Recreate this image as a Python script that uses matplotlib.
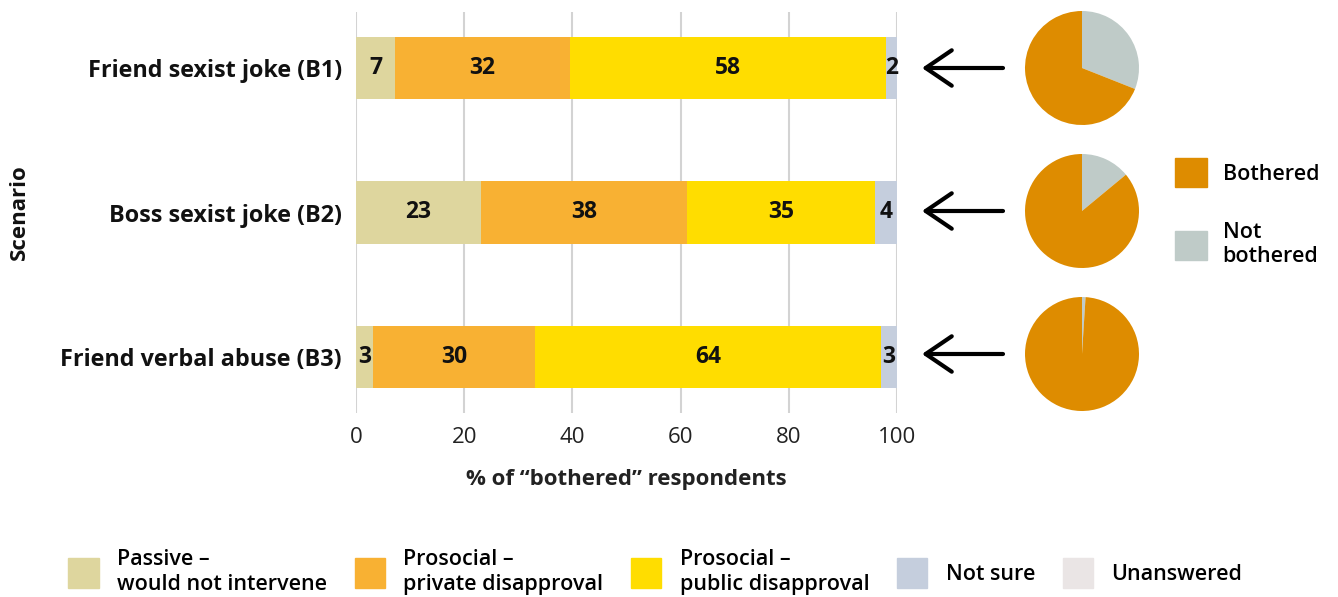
import numpy as np
import matplotlib.pyplot as plt
from matplotlib.patches import Patch

plt.rcParams['font.family'] = ['Open Sans', 'DejaVu Sans']

# Datos
escenarios = ['Friend sexist joke (B1)', 'Boss sexist joke (B2)', 'Friend verbal abuse (B3)']
categorias = ['Passive –\nwould not intervene', 'Prosocial –\nprivate disapproval',
              'Prosocial –\npublic disapproval', 'Not sure', 'Unanswered']
pasivo = [7.2, 23.1, 3.1]
privado = [32.4, 38.1, 30.0]
publico = [58.4, 34.8, 63.9]
no_seguro = [2.0, 4.0, 3.0]
sin_respuesta = [0.0, 0.0, 0.0]
molestos = [69, 86, 99]
no_molestos = [31, 14, 1]

colores = ['#DED69E', '#F8B133', '#FFDD00', '#C5CEDD', '#EAE5E5']
c_molesto = '#DE8C00'
c_no_molesto = '#BFCBC8'
texto = '#111111'

W, H = 1338, 597
fig = plt.figure(figsize=(W / 100, H / 100), dpi=100)

ax = fig.add_axes([356 / W, 1 - 413 / H, (897 - 356) / W, (413 - 12) / H])
y = np.arange(len(escenarios))
series = [pasivo, privado, publico, no_seguro, sin_respuesta]
izq = np.zeros(len(escenarios))
for vals, col in zip(series, colores):
    vals = np.array(vals)
    ax.barh(y, vals, left=izq, height=0.43, color=col, zorder=2)
    for yi, l, v in zip(y, izq, vals):
        if v > 0:
            ax.text(l + v / 2, yi, f'{v:.0f}', ha='center', va='center',
                    fontsize=16.5, fontweight='bold', color=texto, zorder=3)
    izq += vals

ax.set_xlim(0, 100)
ax.set_ylim(2.39, -0.39)
ax.set_xticks([0, 20, 40, 60, 80, 100])
ax.set_yticks(y)
ax.set_yticklabels(escenarios, fontsize=16.8, fontweight='bold', color=texto)
ax.tick_params(axis='x', labelsize=16, colors='#222222', length=0, pad=10)
ax.tick_params(axis='y', length=0, pad=10)
ax.grid(axis='x', color='#D3D3D3', linewidth=1.5, zorder=0)
for s in ax.spines.values():
    s.set_visible(False)
ax.set_xlabel('% of “bothered” respondents', fontsize=16, fontweight='bold',
              color='#222222', labelpad=15)
ax.set_ylabel('Scenario', fontsize=16, fontweight='bold', color=texto, labelpad=22)

# Flechas y tortas
centros = [68, 211, 354]
r = 57
for cy, m, nm in zip(centros, molestos, no_molestos):
    fy = 1 - cy / H
    fig.add_artist(plt.Annotation('', xy=(922 / W, fy), xytext=(1003 / W, fy),
                                  xycoords='figure fraction', textcoords='figure fraction',
                                  arrowprops=dict(arrowstyle='->,head_length=1.25,head_width=0.85',
                                                  lw=3, color='black', mutation_scale=15,
                                                  shrinkA=0, shrinkB=0)))
    pax = fig.add_axes([(1082 - r) / W, (H - cy - r) / H, 2 * r / W, 2 * r / H])
    pax.pie([nm, m], colors=[c_no_molesto, c_molesto], startangle=90,
            counterclock=False, radius=1)
    pax.set_xlim(-1, 1)
    pax.set_ylim(-1, 1)
    pax.set_aspect('equal')

fig.legend(handles=[Patch(color=c_molesto), Patch(color=c_no_molesto)],
           labels=['Bothered', 'Not\nbothered'], loc='upper left',
           bbox_to_anchor=(1156 / W, 1 - 139 / H), frameon=False,
           handlelength=1.45, handleheight=1.7, handletextpad=0.75, labelspacing=1.6,
           prop={'weight': 'semibold', 'size': 15.5})

fig.legend(handles=[Patch(color=c) for c in colores], labels=categorias,
           loc='center left', ncol=5, bbox_to_anchor=(49 / W, 1 - 572 / H),
           frameon=False, handlelength=1.4, handleheight=1.7, handletextpad=0.85,
           columnspacing=1.3, prop={'weight': 'semibold', 'size': 15.5})

fig.savefig('out.png', dpi=100)
